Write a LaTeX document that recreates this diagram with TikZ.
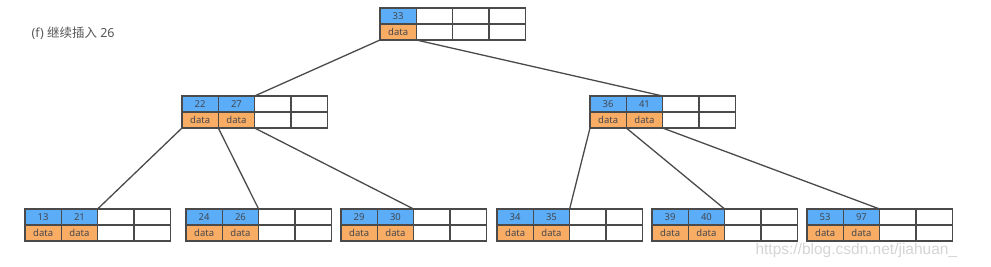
\documentclass[tikz,border=0pt]{standalone}
\usepackage{fontspec}
\usepackage{xcolor}
\usepackage{tikz}
\usetikzlibrary{positioning}
\setmainfont{Noto Sans}
\newfontfamily\cjk{Noto Sans CJK SC}
\newfontfamily\wmfont{Liberation Sans}
\definecolor{BTBlue}{HTML}{5CADF7}
\definecolor{BTOrange}{HTML}{F9AC63}
\definecolor{BTLine}{HTML}{4A4A4A}
\definecolor{BTText}{HTML}{44474F}
\definecolor{BTTitle}{HTML}{555555}
\definecolor{BTMark}{HTML}{D4D4D4}

\tikzset{
  cell/.style={draw=BTLine, line width=1.2pt, minimum width=36.3pt, minimum height=16pt,
    inner sep=0pt, outer sep=0pt, text=BTText, font=\fontsize{9.5}{10}\selectfont},
  keycell/.style={cell, fill=BTBlue},
  datacell/.style={cell, fill=BTOrange},
  link/.style={draw=BTLine, line width=1.3pt}
}

% B-tree node with two keys: name, left x, top y, key 1, key 2
\newcommand{\btnode}[5]{%
  \node[keycell, anchor=north west] (#1-k1) at (#2,#3) {#4};
  \node[keycell, right=0pt of #1-k1] (#1-k2) {#5};
  \node[cell, right=0pt of #1-k2] (#1-k3) {};
  \node[cell, right=0pt of #1-k3] (#1-k4) {};
  \node[datacell, below=0pt of #1-k1] (#1-d1) {data};
  \node[datacell, below=0pt of #1-k2] (#1-d2) {data};
  \node[cell, below=0pt of #1-k3] (#1-d3) {};
  \node[cell, below=0pt of #1-k4] (#1-d4) {};
}

\begin{document}
\begin{tikzpicture}[x=1pt,y=-1pt]
\path[use as bounding box] (0,0) rectangle (991,267);
\node[anchor=west, text=BTTitle, font=\fontsize{12.5}{13}\selectfont] (title) at (28,33) {(f) {\cjk 继续插入} 26};

% root
\node[keycell, anchor=north west] (r-k1) at (380,8) {33};
\node[cell, right=0pt of r-k1] (r-k2) {};
\node[cell, right=0pt of r-k2] (r-k3) {};
\node[cell, right=0pt of r-k3] (r-k4) {};
\node[datacell, below=0pt of r-k1] (r-d1) {data};
\node[cell, below=0pt of r-k2] (r-d2) {};
\node[cell, below=0pt of r-k3] (r-d3) {};
\node[cell, below=0pt of r-k4] (r-d4) {};

% second level
\btnode{a}{182}{96}{22}{27}
\btnode{b}{590}{96}{36}{41}

% leaves
\btnode{l1}{25}{209}{13}{21}
\btnode{l2}{186}{209}{24}{26}
\btnode{l3}{341}{209}{29}{30}
\btnode{l4}{497}{209}{34}{35}
\btnode{l5}{652}{209}{39}{40}
\btnode{l6}{807}{209}{53}{97}

% pointers
\draw[link] (r-d1.south west) -- (a-k2.north east);
\draw[link] (r-d1.south east) -- (b-k2.north east);
\draw[link] (a-d1.south west) -- (l1-k2.north east);
\draw[link] (a-d1.south east) -- (l2-k2.north east);
\draw[link] (a-d2.south east) -- (l3-k2.north east);
\draw[link] (b-d1.south west) -- (l4-k2.north east);
\draw[link] (b-d1.south east) -- (l5-k2.north east);
\draw[link] (b-d2.south east) -- (l6-k2.north east);

\node[anchor=west, text=BTMark, font=\wmfont\fontsize{15.5}{16}\selectfont] (mark) at (752,250) {https://blog.csdn.net/jiahuan\_};
\end{tikzpicture}
\end{document}
